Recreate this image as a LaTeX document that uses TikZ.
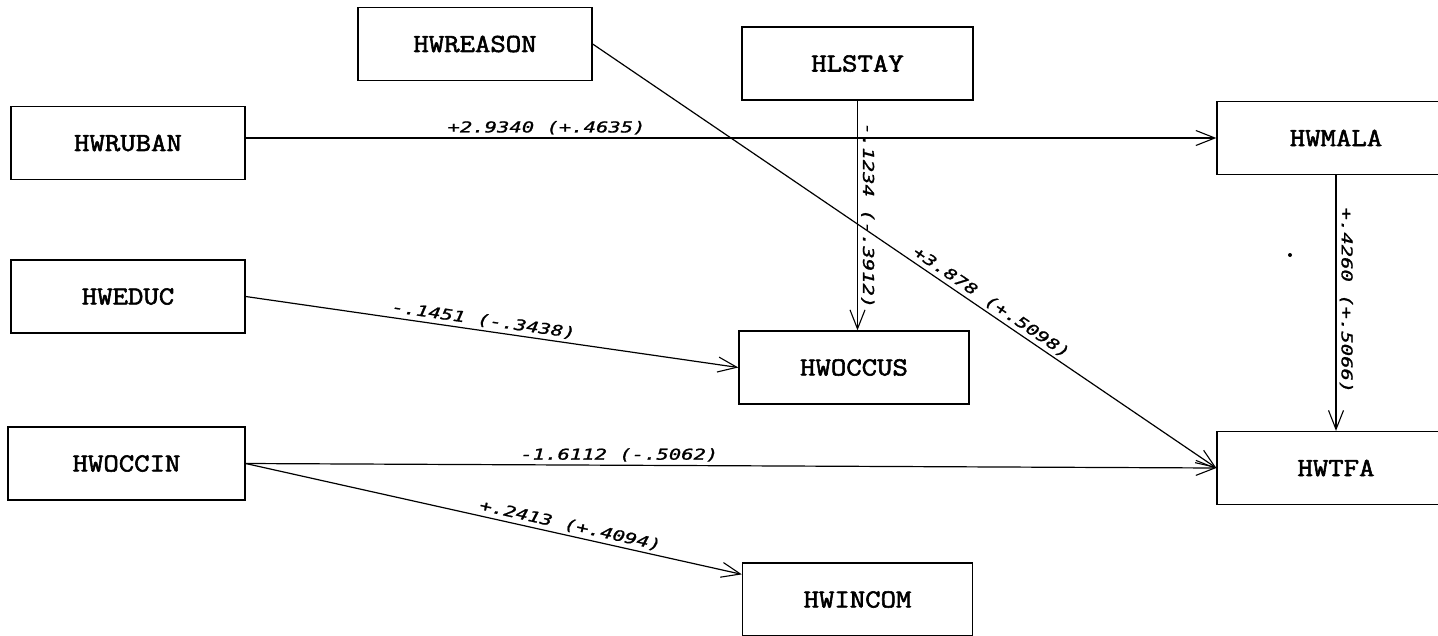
\documentclass[tikz,border=0pt]{standalone}
\usepackage{fontspec}
\usetikzlibrary{arrows.meta,calc}
\newfontfamily\boxfont[FakeBold=2.2,FakeStretch=1.15]{Latin Modern Mono}
\newfontfamily\pathfont[FakeStretch=1.37,FakeBold=1.2]{DejaVu Sans Mono}
\begin{document}
\begin{tikzpicture}[x=1pt,y=-1pt,
  var/.style={draw, line width=1.3pt, minimum width=234pt, minimum height=73pt,
    inner sep=0pt, font=\boxfont\fontsize{26}{28}\selectfont},
  link/.style={line width=1.2pt, -{Straight Barb[length=19pt,width=15pt,line width=1.1pt]}},
  coef/.style={font=\pathfont\itshape\fontsize{15}{17}\selectfont, inner sep=3pt}]
\useasboundingbox (0,0) rectangle (1438,635);
\fill[white] (0,0) rectangle (1438,635);
\clip (0,0) rectangle (1438,635);

% variables
\node[var] (reason) at (475,44) {HWREASON};
\node[var, minimum width=231pt] (stay) at (857.5,63.5) {HLSTAY};
\node[var] (ruban) at (128,143) {HWRUBAN};
\node[var] (educ) at (128,296.5) {HWEDUC};
\node[var, minimum width=230pt] (occus) at (854,367.5) {HWOCCUS};
\node[var, minimum width=237pt] (occin) at (126.5,463.5) {HWOCCIN};
\node[var, minimum width=230pt] (incom) at (857.5,599.5) {HWINCOM};
\node[var, minimum width=238pt] (mala) at (1336,138) {HWMALA};
\node[var, minimum width=238pt] (tfa) at (1336,468) {HWTFA};

% paths with coefficients
\draw[link] (ruban.east |- mala.west) -- node[coef, above, pos=0.31] {+2.9340 (+.4635)} (mala.west);
\draw[link] (educ.east) -- node[coef, above, sloped, pos=0.48] {-.1451 (-.3438)} (occus.west);
\draw[link] (occin.east) -- node[coef, above, pos=0.385] {-1.6112 (-.5062)} (tfa.west);
\draw[link] (occin.east) -- node[coef, above, sloped, pos=0.65] {+.2413 (+.4094)} ([yshift=-12pt]incom.north west);
\draw[link] (reason.east) -- node[coef, above, sloped, pos=0.63] {+3.878 (+.5098)} (tfa.west);
\draw[link] (stay.south) -- node[coef, rotate=-90, anchor=south, pos=0.5] {-.1234 (-.3912)} (stay.south |- occus.north);
\draw[link] (mala.south) -- node[coef, rotate=-90, anchor=south, pos=0.49] {+.4260 (+.5066)} (tfa.north);

% speck of ink
\fill (1290,255) circle (2pt);
\end{tikzpicture}
\end{document}
